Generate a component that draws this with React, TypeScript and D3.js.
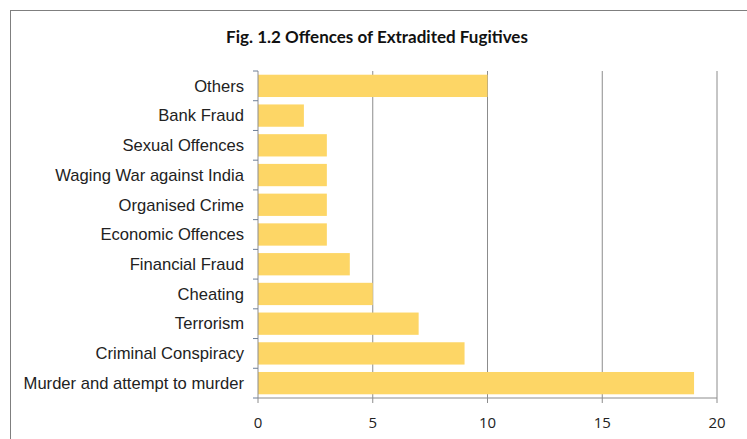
import React from "react";
import * as d3 from "d3";

const categories = [
  "Others",
  "Bank Fraud",
  "Sexual Offences",
  "Waging War against India",
  "Organised Crime",
  "Economic Offences",
  "Financial Fraud",
  "Cheating",
  "Terrorism",
  "Criminal Conspiracy",
  "Murder and attempt to murder",
];
const values = [10, 2, 3, 3, 3, 3, 4, 5, 7, 9, 19];
const xTicks = [0, 5, 10, 15, 20];
const title = "Fig. 1.2 Offences of Extradited Fugitives";

export default function App() {
  const W = 747, H = 439;
  const left = 258, right = 717, top = 71, bottom = 398;
  const x = d3.scaleLinear().domain([0, 20]).range([left, right]);
  const y = d3.scaleBand<string>().domain(categories).range([top, bottom]).paddingInner(0.25).paddingOuter(0.125);
  const band = (bottom - top) / categories.length;
  const boundaries = d3.range(categories.length + 1).map((i) => top + i * band);
  return (
    <svg width={W} height={H} style={{ position: "absolute", left: 0, top: 0 }}>
      <rect x={0} y={0} width={W} height={H} fill="#fff" />
      <rect x={10.5} y={10.5} width={W - 10} height={H} fill="#fff" stroke="#7f7f7f" strokeWidth={1} />
      <text x={377} y={43} textAnchor="middle" fontFamily="Lato, 'Open Sans', sans-serif" fontWeight="bold" fontSize={17} fill="#111">
        {title}
      </text>
      {xTicks.slice(1).map((t) => (
        <line key={"g" + t} x1={x(t)} x2={x(t)} y1={top} y2={bottom} stroke="#8c8c8c" strokeWidth={1} />
      ))}
      {categories.map((c, i) => (
        <rect key={c} x={x(0)} y={y(c)!} width={x(values[i]) - x(0)} height={y.bandwidth()} fill="#FDD666" />
      ))}
      <line x1={left} x2={left} y1={top} y2={bottom} stroke="#8c8c8c" />
      <line x1={left} x2={right} y1={bottom} y2={bottom} stroke="#8c8c8c" />
      {boundaries.map((b, i) => (
        <line key={"yt" + i} x1={left - 5} x2={left} y1={b} y2={b} stroke="#6d7f99" />
      ))}
      {xTicks.map((t) => (
        <line key={"xt" + t} x1={x(t)} x2={x(t)} y1={bottom} y2={bottom + 5} stroke="#8c8c8c" />
      ))}
      {categories.map((c) => (
        <text key={"l" + c} x={244} y={y(c)! + y.bandwidth() / 2} dy="0.35em" textAnchor="end" fontFamily="'Liberation Sans', Arial, sans-serif" fontSize={16.6} fill="#222">
          {c}
        </text>
      ))}
      {xTicks.map((t) => (
        <text key={"xl" + t} x={x(t)} y={423} dy="0.35em" textAnchor="middle" fontFamily="'Open Sans', sans-serif" fontSize={15} fill="#222">
          {t}
        </text>
      ))}
    </svg>
  );
}
